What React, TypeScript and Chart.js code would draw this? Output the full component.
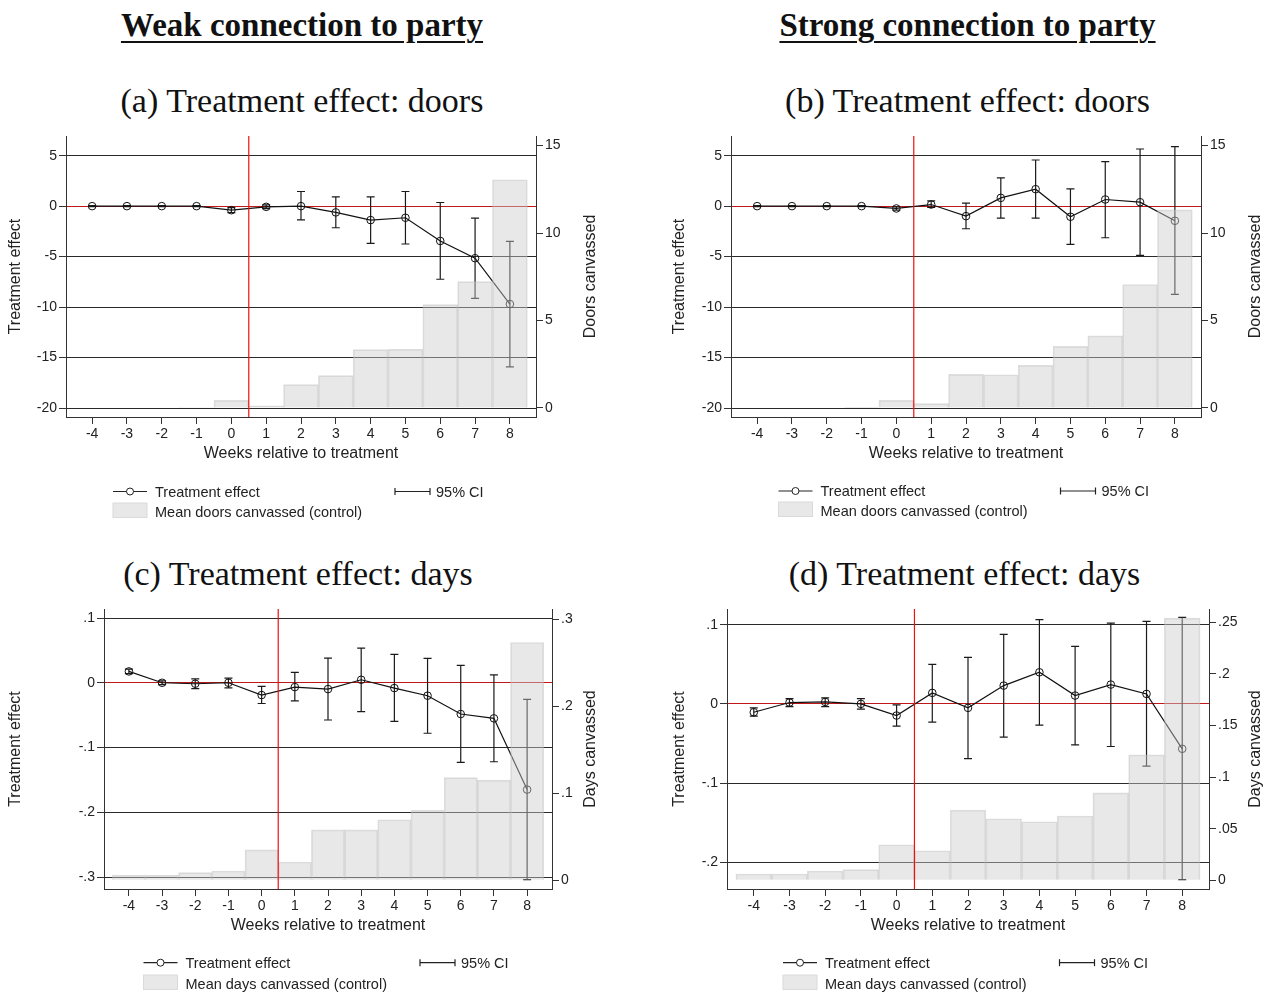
import { useEffect, useRef } from "react";
import { Chart, registerables } from "chart.js";

Chart.register(...registerables);

const SANS = "'Liberation Sans', Arial, Helvetica, sans-serif";
const SERIF = "'Liberation Serif', 'Times New Roman', serif";

// weeks relative to treatment
const weeks = [-4, -3, -2, -1, 0, 1, 2, 3, 4, 5, 6, 7, 8];

// (a) weak connection, doors
const effA = [0, 0, 0, 0, -0.4, -0.07, 0.0, -0.62, -1.38, -1.15, -3.45, -5.16, -9.7];
const loA = [-0.05, -0.05, -0.05, -0.05, -0.65, -0.25, -1.35, -2.14, -3.68, -3.75, -7.24, -9.14, -15.92];
const hiA = [0.05, 0.05, 0.05, 0.05, -0.15, 0.12, 1.45, 0.92, 0.92, 1.45, 0.36, -1.18, -3.49];
const barsA = [0, 0, 0, 0.03, 0.44, 0.13, 1.34, 1.85, 3.34, 3.35, 5.91, 7.22, 13.05];

// (b) strong connection, doors
const effB = [0, 0, 0, 0, -0.23, 0.16, -0.99, 0.82, 1.68, -1.05, 0.66, 0.39, -1.45];
const loB = [-0.05, -0.05, -0.05, -0.05, -0.4, -0.13, -2.24, -1.18, -1.18, -3.78, -3.13, -4.87, -8.75];
const hiB = [0.05, 0.05, 0.05, 0.05, -0.06, 0.53, 0.3, 2.8, 4.57, 1.71, 4.41, 5.66, 5.89];
const barsB = [0, 0, 0, 0.02, 0.44, 0.25, 1.92, 1.9, 2.44, 3.52, 4.12, 7.06, 11.33];

// (c) weak connection, days
const effC = [0.0175, 0, -0.0015, 0, -0.019, -0.0067, -0.0098, 0.0046, -0.0082, -0.02, -0.0483, -0.055, -0.165];
const loC = [0.014, -0.003, -0.009, -0.008, -0.032, -0.028, -0.0575, -0.0447, -0.0596, -0.078, -0.123, -0.122, -0.304];
const hiC = [0.021, 0.003, 0.006, 0.007, -0.0056, 0.016, 0.038, 0.0534, 0.0437, 0.0375, 0.0267, 0.0123, -0.0257];
const barsC = [0.006, 0.006, 0.0088, 0.0107, 0.035, 0.021, 0.058, 0.058, 0.0695, 0.0805, 0.118, 0.115, 0.273];

// (d) strong connection, days
const effD = [-0.0105, 0.0017, 0.0025, 0, -0.0147, 0.0139, -0.005, 0.0231, 0.0399, 0.0105, 0.0244, 0.0126, -0.0567];
const loD = [-0.0155, -0.0034, -0.0034, -0.0067, -0.028, -0.0231, -0.069, -0.042, -0.0269, -0.0517, -0.0538, -0.0786, -0.2218];
const hiD = [-0.005, 0.0067, 0.0076, 0.0067, -0.0013, 0.05, 0.0588, 0.0878, 0.1063, 0.0727, 0.102, 0.1042, 0.1092];
const barsD = [0.0061, 0.0061, 0.009, 0.0103, 0.0345, 0.0287, 0.068, 0.0597, 0.0568, 0.0623, 0.0848, 0.1216, 0.254];

// axis ticks
const doorsLeftTicks = [-20, -15, -10, -5, 0, 5];
const doorsRightTicks = [0, 5, 10, 15];
const daysLeftTicksC = [-0.3, -0.2, -0.1, 0, 0.1];
const daysRightTicksC = [0, 0.1, 0.2, 0.3];
const daysLeftTicksD = [-0.2, -0.1, 0, 0.1];
const daysRightTicksD = [0, 0.05, 0.1, 0.15, 0.2, 0.25];

const fmt = (v: number) => (v === 0 ? "0" : String(v).replace("0.", "."));

type PanelProps = {
  eff: number[];
  lo: number[];
  hi: number[];
  bars: number[];
  leftTicks: number[];
  rightTicks: number[];
  leftMin: number;
  leftMax: number;
  rightMin: number;
  rightMax: number;
  rightTitle: string;
  barLabel: string;
  left: number;
  top: number;
  width: number;
  height: number;
  padLeft: number;
  yW: number;
  y2W: number;
  rightTitleOff: number;
};

function Panel(p: PanelProps) {
  const ref = useRef<HTMLCanvasElement>(null);

  useEffect(() => {
    if (!ref.current) return;

    const overlay = {
      id: "overlay",
      beforeDatasetsDraw(chart: any) {
        // 95% CI bars, drawn under the grey bars
        const { ctx } = chart;
        const x = chart.scales.x;
        const y = chart.scales.y;
        ctx.save();
        ctx.strokeStyle = "#1a1a1a";
        ctx.lineWidth = 1.2;
        weeks.forEach((w, i) => {
          const px = x.getPixelForValue(w);
          const a = y.getPixelForValue(p.lo[i]);
          const b = y.getPixelForValue(p.hi[i]);
          ctx.beginPath();
          ctx.moveTo(px, a);
          ctx.lineTo(px, b);
          ctx.moveTo(px - 4, a);
          ctx.lineTo(px + 4, a);
          ctx.moveTo(px - 4, b);
          ctx.lineTo(px + 4, b);
          ctx.stroke();
        });
        ctx.restore();
      },
      afterDatasetsDraw(chart: any) {
        const { ctx, chartArea } = chart;
        const px = chart.scales.x.getPixelForValue(0.5);
        ctx.save();
        ctx.strokeStyle = "#f01010";
        ctx.lineWidth = 1.2;
        ctx.beginPath();
        ctx.moveTo(px, chartArea.top);
        ctx.lineTo(px, chartArea.bottom);
        ctx.stroke();
        ctx.restore();
      },
      afterDraw(chart: any) {
        // right axis title reads bottom-to-top like the left one
        const { ctx, chartArea } = chart;
        ctx.save();
        ctx.fillStyle = "#222";
        ctx.font = `16px ${SANS}`;
        ctx.textAlign = "center";
        ctx.textBaseline = "middle";
        ctx.translate(chartArea.right + p.rightTitleOff, (chartArea.top + chartArea.bottom) / 2);
        ctx.rotate(-Math.PI / 2);
        ctx.fillText(p.rightTitle, 0, 0);
        ctx.restore();
      },
    };

    const tickFont = { family: SANS, size: 14 };
    const titleFont = { family: SANS, size: 16 };

    const chart = new Chart(ref.current, {
      type: "line",
      data: {
        datasets: [
          {
            type: "line",
            label: "Treatment effect",
            data: weeks.map((w, i) => ({ x: w, y: p.eff[i] })),
            yAxisID: "y",
            order: 1,
            borderColor: "#111",
            borderWidth: 1.2,
            pointRadius: 3.8,
            pointBorderWidth: 1,
            pointBackgroundColor: "rgba(0,0,0,0)",
            pointBorderColor: "#111",
            fill: false,
            tension: 0,
          },
          {
            type: "bar",
            label: p.barLabel,
            data: weeks.map((w, i) => ({ x: w, y: p.bars[i] })),
            yAxisID: "y2",
            order: 0,
            backgroundColor: "rgba(205,205,205,0.45)",
            borderColor: "rgba(190,190,190,0.5)",
            borderWidth: 1,
            barPercentage: 1,
            categoryPercentage: 1,
          },
        ] as any,
      },
      options: {
        animation: false,
        responsive: true,
        maintainAspectRatio: false,
        layout: { padding: { left: p.padLeft, top: 12, right: 0, bottom: 0 } },
        plugins: { legend: { display: false }, tooltip: { enabled: false } },
        scales: {
          x: {
            type: "linear",
            min: -4.75,
            max: 8.75,
            offset: false,
            afterBuildTicks: (s: any) => {
              s.ticks = weeks.map((v) => ({ value: v }));
            },
            afterFit: (s: any) => {
              s.height = 50;
            },
            ticks: {
              callback: (v: any) => String(v),
              font: tickFont,
              color: "#222",
              padding: 2,
              maxRotation: 0,
              autoSkip: false,
            },
            grid: { drawOnChartArea: false, offset: false, tickLength: 7, tickColor: "#333" },
            border: { color: "#333", width: 1 },
            title: {
              display: true,
              text: "Weeks relative to treatment",
              font: titleFont,
              color: "#222",
              padding: { top: 0, bottom: 4 },
            },
          },
          y: {
            type: "linear",
            position: "left",
            min: p.leftMin,
            max: p.leftMax,
            afterBuildTicks: (s: any) => {
              s.ticks = p.leftTicks.map((v) => ({ value: v }));
            },
            afterFit: (s: any) => {
              s.width = p.yW;
            },
            ticks: { callback: (v: any) => fmt(v), font: tickFont, color: "#222", padding: 2 },
            grid: {
              color: (c: any) => (c.tick && c.tick.value === 0 ? "#c01818" : "#2a2a2a"),
              tickColor: "#333",
              tickLength: 7,
              lineWidth: 1,
            },
            border: { color: "#333", width: 1 },
            title: { display: true, text: "Treatment effect", font: titleFont, color: "#222", padding: 0 },
          },
          y2: {
            type: "linear",
            position: "right",
            min: p.rightMin,
            max: p.rightMax,
            afterBuildTicks: (s: any) => {
              s.ticks = p.rightTicks.map((v) => ({ value: v }));
            },
            afterFit: (s: any) => {
              s.width = p.y2W;
            },
            ticks: { callback: (v: any) => fmt(v), font: tickFont, color: "#222", padding: 2 },
            grid: { drawOnChartArea: false, tickColor: "#333", tickLength: 7 },
            border: { color: "#333", width: 1 },
          },
        },
      } as any,
      plugins: [overlay],
    });

    return () => chart.destroy();
  }, []);

  return (
    <div style={{ position: "absolute", left: p.left, top: p.top, width: p.width, height: p.height }}>
      <canvas ref={ref}></canvas>
    </div>
  );
}

type LegendProps = { s: number; c: number; y1: number; y2: number; label: string };

function Legend({ s, c, y1, y2, label }: LegendProps) {
  const text = {
    position: "absolute" as const,
    font: `14.5px ${SANS}`,
    lineHeight: "16px",
    color: "#222",
    whiteSpace: "nowrap" as const,
  };
  return (
    <>
      <svg style={{ position: "absolute", left: 0, top: 0 }} width={1273} height={993}>
        <line x1={s} x2={s + 34} y1={y1} y2={y1} stroke="#222" strokeWidth={1.2} />
        <circle cx={s + 17} cy={y1} r={3.5} fill="#fff" stroke="#222" strokeWidth={1} />
        <line x1={c} x2={c + 35} y1={y1} y2={y1} stroke="#222" strokeWidth={1.2} />
        <line x1={c} x2={c} y1={y1 - 3.5} y2={y1 + 3.5} stroke="#222" strokeWidth={1.2} />
        <line x1={c + 35} x2={c + 35} y1={y1 - 3.5} y2={y1 + 3.5} stroke="#222" strokeWidth={1.2} />
        <rect x={s} y={y2 - 9} width={34} height={14.5} fill="#e8e8e8" stroke="#dadada" strokeWidth={1} />
      </svg>
      <div style={{ ...text, left: s + 42, top: y1 - 8 }}>Treatment effect</div>
      <div style={{ ...text, left: c + 41, top: y1 - 8 }}>95% CI</div>
      <div style={{ ...text, left: s + 42, top: y2 - 8 }}>{label}</div>
    </>
  );
}

export default function App() {
  const heading = {
    position: "absolute" as const,
    width: 600,
    textAlign: "center" as const,
    font: `bold 33px ${SERIF}`,
    lineHeight: "33px",
    color: "#111",
  };
  const under = { textDecoration: "underline", textUnderlineOffset: "5px", textDecorationThickness: "1.5px" };
  const sub = {
    position: "absolute" as const,
    width: 600,
    textAlign: "center" as const,
    font: `34px ${SERIF}`,
    lineHeight: "34px",
    color: "#111",
    whiteSpace: "nowrap" as const,
  };

  return (
    <div style={{ position: "absolute", left: 0, top: 0, width: 1273, height: 993, background: "#fff" }}>
      <div style={{ ...heading, left: 2, top: 9 }}>
        <span style={under}>Weak connection to party</span>
      </div>
      <div style={{ ...heading, left: 667.5, top: 9 }}>
        <span style={under}>Strong connection to party</span>
      </div>

      <div style={{ ...sub, left: 2, top: 83.5 }}>(a) Treatment effect: doors</div>
      <div style={{ ...sub, left: 667.5, top: 83.5 }}>(b) Treatment effect: doors</div>
      <div style={{ ...sub, left: -2, top: 556.5 }}>(c) Treatment effect: days</div>
      <div style={{ ...sub, left: 664.5, top: 556.5 }}>(d) Treatment effect: days</div>

      <Panel
        eff={effA} lo={loA} hi={hiA} bars={barsA}
        leftTicks={doorsLeftTicks} rightTicks={doorsRightTicks}
        leftMin={-20.89} leftMax={6.95} rightMin={-0.515} rightMax={15.55}
        rightTitle="Doors canvassed" barLabel="Mean doors canvassed (control)"
        left={0} top={124} width={610} height={343}
        padLeft={6} yW={60} y2W={74} rightTitleOff={55}
      />
      <Panel
        eff={effB} lo={loB} hi={hiB} bars={barsB}
        leftTicks={doorsLeftTicks} rightTicks={doorsRightTicks}
        leftMin={-20.89} leftMax={6.95} rightMin={-0.515} rightMax={15.55}
        rightTitle="Doors canvassed" barLabel="Mean doors canvassed (control)"
        left={660} top={124} width={613} height={343}
        padLeft={10} yW={61} y2W={72} rightTitleOff={55}
      />
      <Panel
        eff={effC} lo={loC} hi={hiC} bars={barsC}
        leftTicks={daysLeftTicksC} rightTicks={daysRightTicksC}
        leftMin={-0.3185} leftMax={0.1139} rightMin={-0.00995} rightMax={0.3115}
        rightTitle="Days canvassed" barLabel="Mean days canvassed (control)"
        left={0} top={597} width={610} height={342}
        padLeft={6} yW={98} y2W={58} rightTitleOff={39}
      />
      <Panel
        eff={effD} lo={loD} hi={hiD} bars={barsD}
        leftTicks={daysLeftTicksD} rightTicks={daysRightTicksD}
        leftMin={-0.2337} leftMax={0.1198} rightMin={-0.0084} rightMax={0.2629}
        rightTitle="Days canvassed" barLabel="Mean days canvassed (control)"
        left={660} top={597} width={613} height={342}
        padLeft={10} yW={57} y2W={64} rightTitleOff={47}
      />

      <Legend s={113} c={395} y1={491.5} y2={512} label="Mean doors canvassed (control)" />
      <Legend s={778.5} c={1060.5} y1={491} y2={511} label="Mean doors canvassed (control)" />
      <Legend s={143.5} c={420} y1={962.7} y2={984} label="Mean days canvassed (control)" />
      <Legend s={783} c={1059.5} y1={962.7} y2={984} label="Mean days canvassed (control)" />
    </div>
  );
}
